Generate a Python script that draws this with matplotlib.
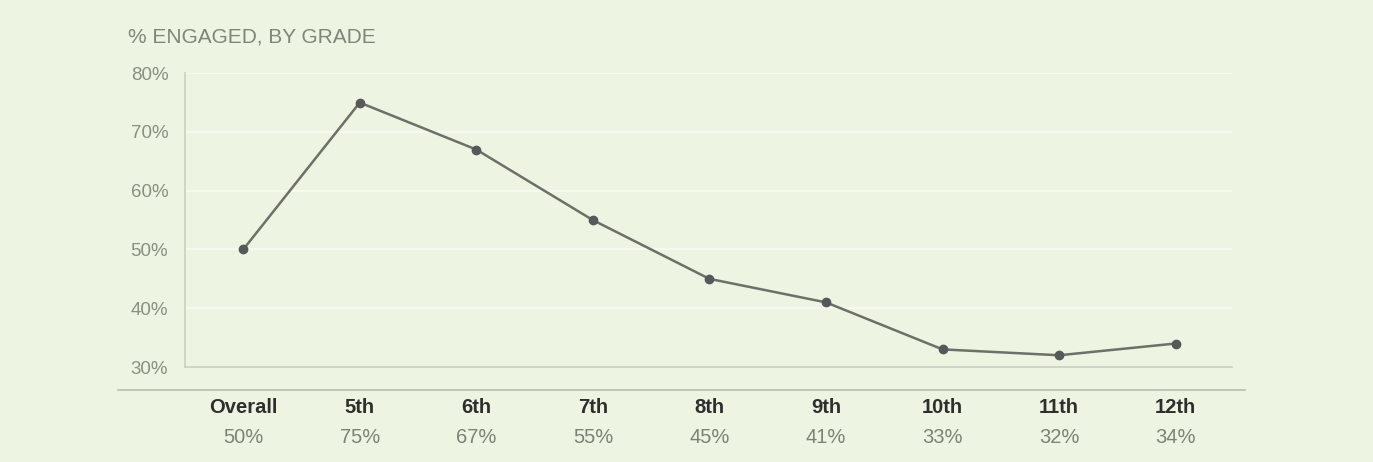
import matplotlib.pyplot as plt
from matplotlib.lines import Line2D

plt.rcParams['font.family'] = ['Liberation Sans', 'DejaVu Sans']

grades = ['Overall', '5th', '6th', '7th', '8th', '9th', '10th', '11th', '12th']
engaged = [50, 75, 67, 55, 45, 41, 33, 32, 34]
yticks = [30, 40, 50, 60, 70, 80]

bg = '#edf4e1'
fig = plt.figure(figsize=(13.73, 4.62), dpi=100, facecolor=bg)
ax = fig.add_axes([0.1347, 0.2056, 0.7623, 0.636], facecolor=bg)

x = list(range(len(grades)))
ax.plot(x, engaged, color='#6c7069', lw=1.8, marker='o', ms=6,
        markerfacecolor='#55595a', markeredgecolor='#55595a', zorder=3)

ax.set_xlim(-0.5, 8.48)
ax.set_ylim(30, 80)
ax.set_yticks(yticks)
ax.set_yticklabels([f'{v}%' for v in yticks], color='#8a8f85', fontsize=13.5)
ax.set_xticks([])
ax.tick_params(axis='y', length=0, pad=12)
ax.yaxis.grid(True, color='#f8fbf3', lw=1.2)
ax.set_axisbelow(True)
for s in ['top', 'right']:
    ax.spines[s].set_visible(False)
ax.spines['left'].set_color('#c9d0c1')
ax.spines['bottom'].set_color('#c9d0c1')
ax.spines['left'].set_linewidth(1.2)
ax.spines['bottom'].set_linewidth(1.2)

# grade names and values under the axis
trans = ax.get_xaxis_transform()
for i, (g, v) in enumerate(zip(grades, engaged)):
    ax.text(i, -0.137, g, transform=trans, ha='center', va='center',
            fontsize=14.5, fontweight='bold', color='#2e2e2e')
    ax.text(i, -0.24, f'{v}%', transform=trans, ha='center', va='center',
            fontsize=14.5, color='#7d8279')

fig.add_artist(Line2D([118 / 1373, 1245 / 1373], [1 - 390 / 462, 1 - 390 / 462],
                      color='#b9c0b1', lw=1.2))

fig.text(128 / 1373, 1 - 37 / 462, '% ENGAGED, BY GRADE', fontsize=15,
         color='#80857c', va='center', ha='left')

fig.savefig('out.png', dpi=100, facecolor=bg)
